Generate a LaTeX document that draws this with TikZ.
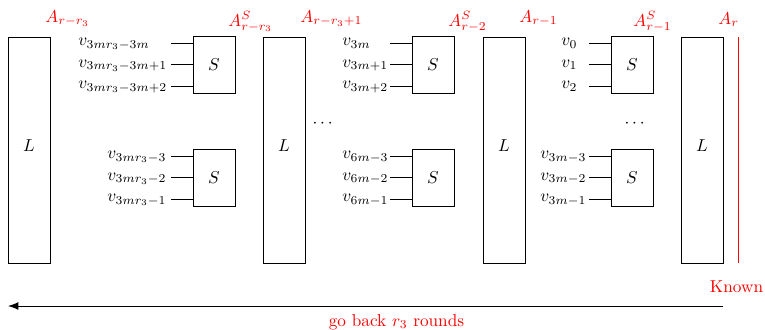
\documentclass[tikz,border=0pt]{standalone}
\usepackage{amsmath}
\usetikzlibrary{arrows.meta,positioning}

\begin{document}
\begin{tikzpicture}[
    x=0.0204cm,y=-0.0204cm,
    lay/.style={draw,line width=0.4pt,minimum width=0.857cm,minimum height=4.61cm,inner sep=0pt,
      text depth=4.6pt},
    sb/.style={draw,line width=0.4pt,minimum width=0.857cm,minimum height=1.163cm,inner sep=0pt},
    inp/.style={anchor=base west,inner sep=0pt},
    st/.style={anchor=base west,inner sep=0pt,text=red},
    ln/.style={draw,line width=0.4pt}
  ]
  \useasboundingbox (0,0) rectangle (765,329);
  % linear layers
  \foreach \n/\x in {L1/29,L2/284,L3/504,L4/702}{
    \node[lay] (\n) at (\x,150) {$L$};}
  % sbox layers with their inputs
  \foreach \s/\x/\y/\lx/\ta/\tb/\tc in {
      S1a/214/64.5/78/{3mr_3-3m}/{3mr_3-3m+1}/{3mr_3-3m+2},
      S1b/214/177.5/107/{3mr_3-3}/{3mr_3-2}/{3mr_3-1},
      S2a/433/64.5/342/{3m}/{3m+1}/{3m+2},
      S2b/433/177.5/342/{6m-3}/{6m-2}/{6m-1},
      S3a/632/64.5/561/0/1/2,
      S3b/632/177.5/540/{3m-3}/{3m-2}/{3m-1}}{
    \node[sb] (\s) at (\x,\y) {$S$};
    \foreach \k/\t [count=\i] in {-21.5/\ta,0/\tb,21.5/\tc}{
      \coordinate (\s-\i) at (\x-43,\y+\k);
      \draw[ln] (\s-\i) -- (\s-\i -| \s.west);
      \node[inp] (\s-v\i) at (\lx,\y+\k+2.5) {$v_{\t}$};
    }
  }
  % dots between the groups
  \node (d1) at (324,124) {$\cdots$};
  \node (d2) at (636,124) {$\cdots$};
  % state names
  \foreach \x/\y/\t [count=\i] in {45/22/{A_{r-r_3}},228/26/{A^S_{r-r_3}},
      300/22/{A_{r-r_3+1}},448/26/{A^S_{r-2}},519/22/{A_{r-1}},
      633/26/{A^S_{r-1}},718/24/{A_r}}{
    \node[st] (a\i) at (\x,\y) {$\t$};}
  % known state and direction
  \coordinate (kt) at (738,37); \coordinate (kb) at (738,263);
  \draw[red,line width=0.4pt] (kt) -- (kb);
  \node[text=red,anchor=base] (known) at (736.5,292) {Known};
  \coordinate (ar) at (723,306); \coordinate (al) at (8,306);
  \draw[line width=0.5pt,-{Latex[length=6pt,width=4.5pt]}] (ar) -- (al);
  \node[text=red,anchor=base] (back) at (396.5,326) {go back $r_3$ rounds};
\end{tikzpicture}
\end{document}
